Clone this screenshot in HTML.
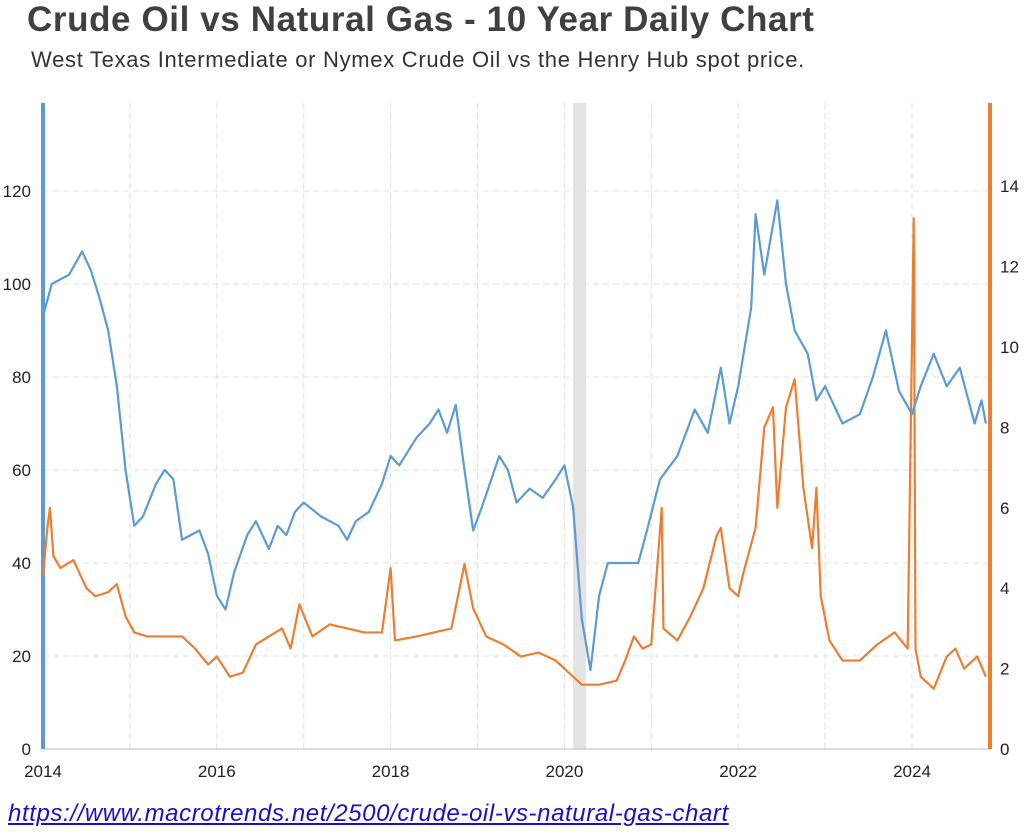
<!DOCTYPE html>
<html><head><meta charset="utf-8"><style>
body{margin:0;background:#fff;width:1024px;height:832px;overflow:hidden;font-family:"Liberation Sans",sans-serif}
#title{position:absolute;left:27px;top:0px;font-size:35px;font-weight:bold;color:#404040;letter-spacing:0.6px;white-space:nowrap}
#sub{position:absolute;left:31px;top:47px;font-size:22px;color:#333;letter-spacing:0.7px;white-space:nowrap}
#url{position:absolute;left:8px;top:800px;font-size:24px;font-style:italic;color:#1a0dcc;text-decoration:underline;letter-spacing:0.6px;white-space:nowrap}
svg{position:absolute;left:0;top:0}
</style></head><body>
<div id="title">Crude Oil vs Natural Gas - 10 Year Daily Chart</div>
<div id="sub">West Texas Intermediate or Nymex Crude Oil vs the Henry Hub spot price.</div>
<svg id="chart" width="1024" height="832"></svg>
<a id="url">https://www.macrotrends.net/2500/crude-oil-vs-natural-gas-chart</a>
<script>
const oilDates=[2014.0,2014.1,2014.2,2014.3,2014.45,2014.55,2014.65,2014.75,2014.85,2014.95,2015.05,2015.15,2015.3,2015.4,2015.5,2015.6,2015.7,2015.8,2015.9,2016.0,2016.1,2016.2,2016.35,2016.45,2016.6,2016.7,2016.8,2016.9,2017.0,2017.2,2017.4,2017.5,2017.6,2017.75,2017.9,2018.0,2018.1,2018.3,2018.45,2018.55,2018.65,2018.75,2018.85,2018.95,2019.05,2019.25,2019.35,2019.45,2019.6,2019.75,2019.9,2020.0,2020.1,2020.2,2020.3,2020.4,2020.5,2020.7,2020.85,2020.95,2021.1,2021.3,2021.5,2021.65,2021.8,2021.9,2022.0,2022.15,2022.2,2022.3,2022.45,2022.55,2022.65,2022.8,2022.9,2023.0,2023.2,2023.4,2023.55,2023.7,2023.85,2024.0,2024.1,2024.25,2024.4,2024.55,2024.65,2024.72,2024.8,2024.85];
const oilValues=[93,100,101,102,107,103,97,90,78,60,48,50,57,60,58,45,46,47,42,33,30,38,46,49,43,48,46,51,53,50,48,45,49,51,57,63,61,67,70,73,68,74,60,47,52,63,60,53,56,54,58,61,52,28,17,33,40,40,40,47,58,63,73,68,82,70,78,95,115,102,118,100,90,85,75,78,70,72,80,90,77,72,78,85,78,82,75,70,75,70];
const gasDates=[2014.0,2014.05,2014.08,2014.12,2014.2,2014.35,2014.5,2014.6,2014.75,2014.85,2014.95,2015.05,2015.2,2015.4,2015.6,2015.75,2015.9,2016.0,2016.15,2016.3,2016.45,2016.6,2016.75,2016.85,2016.95,2017.1,2017.3,2017.5,2017.7,2017.9,2018.0,2018.05,2018.3,2018.5,2018.7,2018.85,2018.95,2019.1,2019.3,2019.5,2019.7,2019.9,2020.05,2020.2,2020.4,2020.6,2020.7,2020.8,2020.9,2021.0,2021.12,2021.14,2021.3,2021.45,2021.6,2021.75,2021.8,2021.9,2022.0,2022.05,2022.2,2022.3,2022.4,2022.45,2022.55,2022.65,2022.75,2022.85,2022.9,2022.95,2023.05,2023.2,2023.4,2023.6,2023.8,2023.95,2024.02,2024.04,2024.1,2024.25,2024.4,2024.5,2024.6,2024.75,2024.85];
const gasValues=[4.3,5.5,6.0,4.8,4.5,4.7,4.0,3.8,3.9,4.1,3.3,2.9,2.8,2.8,2.8,2.5,2.1,2.3,1.8,1.9,2.6,2.8,3.0,2.5,3.6,2.8,3.1,3.0,2.9,2.9,4.5,2.7,2.8,2.9,3.0,4.6,3.5,2.8,2.6,2.3,2.4,2.2,1.9,1.6,1.6,1.7,2.2,2.8,2.5,2.6,6.0,3.0,2.7,3.3,4.0,5.3,5.5,4.0,3.8,4.3,5.5,8.0,8.5,6.0,8.5,9.2,6.5,5.0,6.5,3.8,2.7,2.2,2.2,2.6,2.9,2.5,13.2,2.5,1.8,1.5,2.3,2.5,2.0,2.3,1.8];
const leftTicks=[0,20,40,60,80,100,120];
const rightTicks=[0,2,4,6,8,10,12,14];
const xTicks=[2014,2016,2018,2020,2022,2024];
const recession=[2020.1,2020.25];

const NS='http://www.w3.org/2000/svg';
const svg=document.getElementById('chart');
const X0=43,X1=990,YB=749,YT=103;
const x=d=>X0+(d-2014)*86.9;
const yL=v=>YB-v*4.65;
const yR=v=>YB-v*40.2;
function el(t,a){const e=document.createElementNS(NS,t);for(const k in a)e.setAttribute(k,a[k]);svg.appendChild(e);return e;}
let r=el('rect',{x:x(recession[0]),y:YT,width:x(recession[1])-x(recession[0]),height:YB-YT,fill:'#e3e3e3'});

for(let yr=2014;yr<=2024.5;yr+=1){let g=el('line',{x1:x(yr),x2:x(yr),y1:YT,y2:YB,stroke:'#e0e0e0','stroke-dasharray':'6,4'});
}
leftTicks.forEach(v=>{if(v>0){let g=el('line',{x1:X0,x2:X1,y1:yL(v),y2:yL(v),stroke:'#e0e0e0','stroke-dasharray':'6,4'});
}
let t=el('text',{x:31,y:yL(v)+6,'text-anchor':'end','font-size':'17','fill':'#222'});t.textContent=v;
});
rightTicks.forEach(v=>{let t=el('text',{x:1000,y:yR(v)+6,'font-size':'17','fill':'#222'});t.textContent=v;
});
xTicks.forEach(v=>{let t=el('text',{x:x(v),y:777,'text-anchor':'middle','font-size':'17','fill':'#222'});t.textContent=v;
});
let ax=el('line',{x1:X0,x2:X1,y1:YB,y2:YB,stroke:'#bbb'});
let la=el('line',{x1:X0,x2:X0,y1:YT,y2:YB,stroke:'#5b9bd5','stroke-width':4});
let ra=el('line',{x1:X1,x2:X1,y1:YT,y2:YB,stroke:'#ed7d31','stroke-width':4});
let gp=el('polyline',{points:gasDates.map((d,i)=>x(d)+','+yR(gasValues[i])).join(' '),fill:'none',stroke:'#ed7d31','stroke-width':2.2,'stroke-linejoin':'round'});

let op=el('polyline',{points:oilDates.map((d,i)=>x(d)+','+yL(oilValues[i])).join(' '),fill:'none',stroke:'#5b9bd5','stroke-width':2.2,'stroke-linejoin':'round'});

</script>
</body></html>
